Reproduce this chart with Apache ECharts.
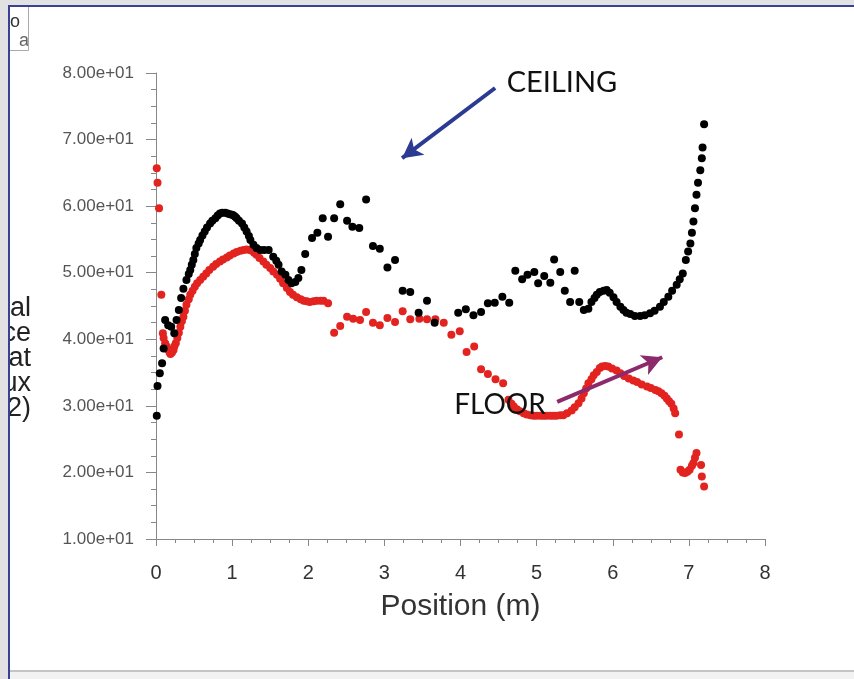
<!DOCTYPE html>
<html>
<head>
<meta charset="utf-8">
<script src="https://cdn.jsdelivr.net/npm/echarts/dist/echarts.min.js"></script>
<style>
  html, body { margin: 0; padding: 0; background: #fff; }
  #chart { width: 854px; height: 679px; }
</style>
</head>
<body>
<div id="chart"></div>
<script>
// heat flux along the room: [position (m), value]
const ceiling = [
  [0.01, 28.5], [0.02, 33.0], [0.05, 34.9], [0.08, 36.4], [0.10, 38.6], [0.12, 42.9],
  [0.16, 42.1], [0.20, 41.9], [0.24, 40.9], [0.27, 42.9], [0.30, 44.4], [0.33, 46.2],
  [0.36, 47.6], [0.40, 48.9], [0.43, 49.8], [0.45, 50.4], [0.47, 51.2], [0.49, 51.9],
  [0.51, 52.8], [0.53, 53.7], [0.56, 54.4], [0.58, 54.9], [0.61, 55.6], [0.64, 56.2],
  [0.67, 56.8], [0.71, 57.4], [0.74, 57.8], [0.78, 58.2], [0.81, 58.6], [0.84, 58.9],
  [0.87, 59.0], [0.91, 59.0], [0.94, 58.9], [0.97, 58.8], [1.00, 58.7], [1.02, 58.6],
  [1.04, 58.4], [1.06, 58.2], [1.09, 57.8], [1.13, 57.4], [1.16, 56.8], [1.19, 56.2],
  [1.22, 55.5], [1.24, 54.9], [1.28, 54.2], [1.32, 53.7], [1.37, 53.4], [1.42, 53.4],
  [1.48, 53.4], [1.54, 52.4], [1.58, 51.8], [1.61, 51.2], [1.65, 50.2], [1.70, 49.7],
  [1.74, 48.9], [1.78, 48.4], [1.83, 48.6], [1.87, 49.2], [1.91, 50.4], [1.96, 52.8],
  [2.05, 55.2], [2.12, 56.0], [2.19, 58.2], [2.26, 55.4], [2.34, 58.2], [2.42, 60.3],
  [2.51, 57.8], [2.58, 56.9], [2.67, 56.7], [2.76, 61.0], [2.85, 54.0], [2.94, 53.6],
  [3.04, 50.8], [3.14, 51.9], [3.24, 47.3], [3.34, 47.1], [3.45, 44.0], [3.56, 45.8],
  [3.66, 42.5], [3.97, 44.0], [4.07, 44.5], [4.17, 43.6], [4.27, 44.1], [4.36, 45.4],
  [4.45, 45.5], [4.55, 46.4], [4.64, 45.5], [4.72, 50.3], [4.81, 49.0], [4.88, 49.7],
  [4.97, 50.1], [5.02, 48.4], [5.10, 49.5], [5.18, 48.5], [5.23, 52.0], [5.31, 50.1],
  [5.37, 47.3], [5.44, 45.6], [5.50, 50.3], [5.56, 45.6], [5.62, 44.4], [5.68, 44.6],
  [5.72, 45.6], [5.76, 46.2], [5.79, 46.7], [5.83, 47.1], [5.88, 47.3], [5.92, 47.4],
  [5.96, 47.0], [6.01, 46.3], [6.05, 45.6], [6.10, 44.9], [6.14, 44.4], [6.18, 44.0],
  [6.23, 43.8], [6.29, 43.5], [6.36, 43.5], [6.42, 43.6], [6.49, 43.9], [6.55, 44.3],
  [6.62, 44.9], [6.67, 45.6], [6.73, 46.4], [6.78, 47.3], [6.84, 48.2], [6.88, 49.0],
  [6.92, 49.9], [6.96, 51.9], [6.99, 53.2], [7.02, 54.4], [7.04, 56.0], [7.06, 57.7],
  [7.08, 59.7], [7.10, 61.7], [7.12, 63.5], [7.15, 65.4], [7.17, 67.2], [7.18, 68.8],
  [7.20, 72.3]
]

const floor = [
  [0.01, 65.7], [0.02, 63.5], [0.04, 59.7], [0.07, 46.7], [0.09, 40.9], [0.10, 40.2],
  [0.12, 39.4], [0.14, 38.9], [0.16, 38.4], [0.18, 38.0], [0.19, 37.8], [0.21, 38.0],
  [0.23, 38.4], [0.24, 38.9], [0.26, 39.4], [0.28, 40.2], [0.30, 41.0], [0.32, 41.9],
  [0.34, 42.7], [0.36, 43.4], [0.38, 44.3], [0.40, 45.2], [0.43, 46.0], [0.45, 46.7],
  [0.48, 47.3], [0.51, 47.9], [0.54, 48.4], [0.58, 48.9], [0.62, 49.4], [0.66, 49.9],
  [0.70, 50.4], [0.75, 50.9], [0.79, 51.3], [0.84, 51.7], [0.88, 52.0], [0.93, 52.3],
  [0.97, 52.6], [1.02, 52.9], [1.06, 53.1], [1.11, 53.3], [1.15, 53.4], [1.19, 53.5],
  [1.23, 53.4], [1.26, 53.3], [1.29, 53.0], [1.32, 52.7], [1.36, 52.2], [1.41, 51.7],
  [1.45, 51.2], [1.50, 50.7], [1.54, 50.2], [1.59, 49.7], [1.63, 49.1], [1.67, 48.4],
  [1.72, 47.7], [1.76, 47.1], [1.80, 46.7], [1.85, 46.3], [1.90, 46.0], [1.94, 45.8],
  [1.98, 45.7], [2.02, 45.6], [2.07, 45.7], [2.11, 45.8], [2.16, 45.8], [2.20, 45.8],
  [2.26, 45.4], [2.34, 41.0], [2.42, 42.0], [2.51, 43.4], [2.59, 43.1], [2.68, 42.9],
  [2.76, 44.1], [2.85, 42.5], [2.94, 42.1], [3.04, 43.2], [3.14, 42.6], [3.24, 44.2],
  [3.34, 43.0], [3.46, 43.1], [3.56, 43.0], [3.67, 43.0], [3.78, 42.5], [3.88, 40.7],
  [3.99, 41.2], [4.08, 38.1], [4.18, 38.9], [4.27, 35.5], [4.36, 34.8], [4.46, 34.0],
  [4.56, 33.4], [4.63, 30.9], [4.67, 30.3], [4.70, 29.9], [4.74, 29.5], [4.78, 29.2],
  [4.83, 28.9], [4.87, 28.7], [4.92, 28.6], [4.96, 28.5], [5.00, 28.5], [5.05, 28.5],
  [5.09, 28.5], [5.13, 28.5], [5.18, 28.5], [5.22, 28.5], [5.26, 28.5], [5.31, 28.6],
  [5.35, 28.6], [5.40, 28.9], [5.46, 29.3], [5.50, 29.8], [5.55, 30.4], [5.59, 31.1],
  [5.62, 31.9], [5.65, 32.6], [5.68, 33.4], [5.72, 34.0], [5.75, 34.6], [5.79, 35.1],
  [5.83, 35.7], [5.86, 35.9], [5.90, 36.0], [5.94, 35.9], [5.99, 35.6], [6.05, 35.3],
  [6.10, 34.9], [6.15, 34.5], [6.21, 34.1], [6.27, 33.8], [6.32, 33.6], [6.38, 33.2],
  [6.45, 32.9], [6.50, 32.7], [6.56, 32.4], [6.60, 32.2], [6.64, 31.9], [6.68, 31.5],
  [6.71, 31.1], [6.74, 30.7], [6.77, 30.3], [6.80, 29.6], [6.82, 28.9], [6.87, 25.7],
  [6.89, 20.4], [6.92, 20.0], [6.95, 19.9], [6.98, 20.1], [7.01, 20.4], [7.04, 21.0],
  [7.06, 21.4], [7.08, 22.2], [7.10, 22.9], [7.16, 21.1], [7.17, 19.4], [7.20, 17.9]
]

// annotation arrows, in data coordinates: [from, to]
const ceilingArrow = [[4.455, 77.75], [3.233, 67.2]]
const floorArrow = [[5.27, 30.6], [6.65, 37.3]]

const yNameLines = ['Total', 'Surface', 'Heat', 'Flux', '(W/m2)']

const expLabel = (v) => {
  const [m, e] = v.toExponential(2).split('e')
  return m + 'e' + e[0] + e.slice(1).padStart(2, '0')
}

const arrow = (pts, color) => ({
  silent: true,
  symbol: ['none', 'arrow'],
  symbolSize: [16, 20],
  lineStyle: { color: color, width: 4, type: 'solid', opacity: 1 },
  label: { show: false },
  data: [[{ coord: pts[0] }, { coord: pts[1] }]]
})

const chart = echarts.init(document.getElementById('chart'))

const option = {
  animation: false,
  backgroundColor: '#fff',
  grid: { left: 156, right: 89, top: 73, bottom: 140 },
  xAxis: {
    type: 'value',
    min: 0,
    max: 8,
    interval: 1,
    name: 'Position (m)',
    nameLocation: 'middle',
    nameGap: 53,
    nameTextStyle: { fontFamily: 'Liberation Sans', fontSize: 30, color: '#333' },
    axisLine: { show: true, lineStyle: { color: '#888', width: 1 } },
    axisTick: { show: true, inside: false, length: 7, lineStyle: { color: '#888' } },
    minorTick: { show: true, splitNumber: 4, length: 4, lineStyle: { color: '#888' } },
    axisLabel: { fontFamily: 'Liberation Sans', fontSize: 20, color: '#333', margin: 24 },
    splitLine: { show: false }
  },
  yAxis: {
    type: 'value',
    min: 10,
    max: 80,
    interval: 10,
    axisLine: { show: true, lineStyle: { color: '#888', width: 1 } },
    axisTick: { show: true, inside: false, length: 10, lineStyle: { color: '#888' } },
    minorTick: { show: true, splitNumber: 4, length: 5, lineStyle: { color: '#888' } },
    axisLabel: { fontFamily: 'Liberation Sans', fontSize: 17, color: '#555', margin: 22, formatter: expLabel },
    splitLine: { show: false }
  },
  series: [
    {
      name: 'CEILING',
      type: 'scatter',
      data: ceiling,
      symbolSize: 8,
      itemStyle: { color: '#000', opacity: 1 },
      markLine: arrow(ceilingArrow, '#2b3a92'),
      z: 3
    },
    {
      name: 'FLOOR',
      type: 'scatter',
      data: floor,
      symbolSize: 8,
      itemStyle: { color: '#e2231f', opacity: 1 },
      markLine: arrow(floorArrow, '#8c2a6c'),
      z: 2
    }
  ],
  graphic: [
    // y axis name, clipped by the left frame strip
    ...yNameLines.map((t, i) => ({
      type: 'text', x: 31, y: 322 + i * 25, z: 1,
      style: { text: t, textAlign: 'right', textVerticalAlign: 'bottom', fontFamily: 'Liberation Sans', fontSize: 27, fill: '#222' }
    })),
    { type: 'text', x: 562, y: 83, z: 10, style: { text: 'CEILING', textAlign: 'center', textVerticalAlign: 'middle', fontFamily: 'Lato', fontSize: 29, fill: '#111' } },
    { type: 'text', x: 500, y: 405, z: 10, style: { text: 'FLOOR', textAlign: 'center', textVerticalAlign: 'middle', fontFamily: 'Lato', fontSize: 28, fill: '#111' } },
    // little clipped legend box top left
    { type: 'text', x: 10, y: 22, z: 20, style: { text: 'o', textVerticalAlign: 'middle', fontFamily: 'Liberation Sans', fontSize: 18, fill: '#333' } },
    { type: 'text', x: 19, y: 41, z: 20, style: { text: 'a', textVerticalAlign: 'middle', fontFamily: 'Liberation Sans', fontSize: 18, fill: '#666' } },
    { type: 'rect', shape: { x: 29, y: 7, width: 20, height: 44 }, z: 21, style: { fill: '#fff' } },
    { type: 'polyline', shape: { points: [[28.5, 7], [28.5, 50.5], [9, 50.5]] }, z: 22, style: { stroke: '#aaa', lineWidth: 1, fill: null } },
    // frame
    { type: 'rect', shape: { x: 0, y: 0, width: 8, height: 679 }, z: 30, style: { fill: '#e2e2e2' } },
    { type: 'rect', shape: { x: 0, y: 0, width: 854, height: 5 }, z: 30, style: { fill: '#e2e2e2' } },
    { type: 'rect', shape: { x: 8, y: 5, width: 846, height: 2 }, z: 31, style: { fill: '#3b3f96' } },
    { type: 'rect', shape: { x: 8, y: 5, width: 2, height: 674 }, z: 31, style: { fill: '#3b3f96' } },
    { type: 'rect', shape: { x: 10, y: 670, width: 844, height: 2 }, z: 31, style: { fill: '#c4c4c4' } },
    { type: 'rect', shape: { x: 10, y: 672, width: 844, height: 7 }, z: 31, style: { fill: '#f2f2f2' } }
  ]
}

chart.setOption(option)
</script>
</body>
</html>
